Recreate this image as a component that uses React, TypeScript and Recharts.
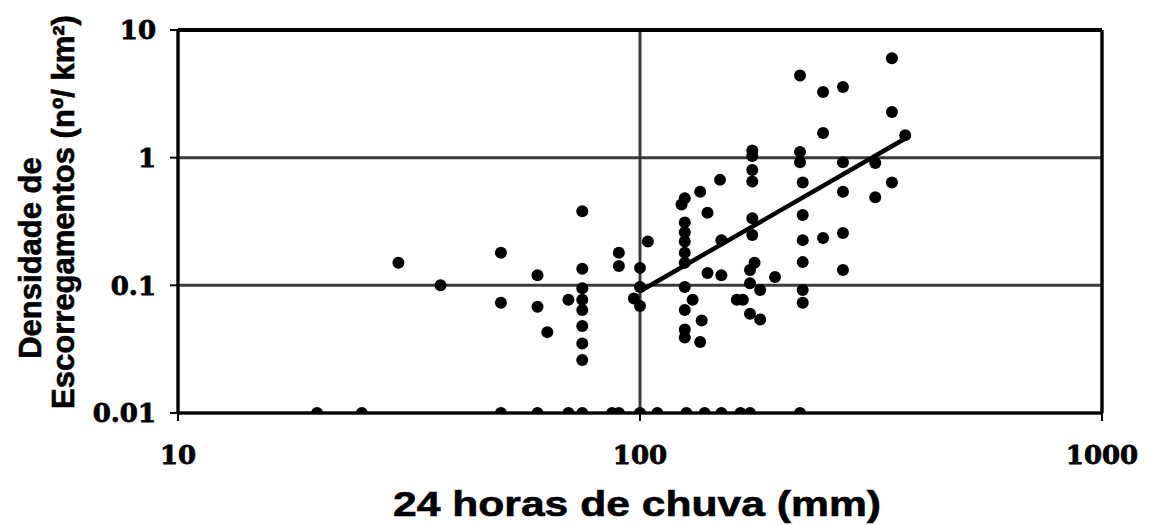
import React from 'react';
import { ScatterChart, Scatter, XAxis, YAxis, CartesianGrid, ReferenceLine, Label } from 'recharts';

// 24-hour rainfall (mm) and landslide density (nº/km²) for each event
const rainMm = [
  30, 37, 50, 50, 60, 60, 63, 70,
  75, 75, 75, 75, 75, 75, 75, 75,
  90, 90, 100, 100, 97, 100, 104,
  125, 123, 125, 125, 125, 125, 125, 125, 130, 125, 136, 125, 125, 135,
  135, 140, 149, 150, 140, 150, 162,
  175, 175, 175, 175, 175, 175, 177, 173, 173, 196, 182, 167, 173, 182,
  222, 222, 222, 225, 225, 225, 225, 225, 225,
  249, 249, 249,
  275, 275, 275, 275, 275,
  323, 323,
  351, 351, 351, 375,
];
const density = [
  0.15, 0.1, 0.18, 0.073, 0.12, 0.068, 0.043, 0.077,
  0.38, 0.135, 0.095, 0.077, 0.064, 0.048, 0.035, 0.026,
  0.18, 0.142, 0.137, 0.097, 0.079, 0.069, 0.22,
  0.48, 0.43, 0.31, 0.26, 0.22, 0.18, 0.15, 0.097, 0.077, 0.064, 0.053, 0.045, 0.039, 0.036,
  0.54, 0.37, 0.67, 0.226, 0.125, 0.12, 0.077,
  1.14, 1.03, 0.8, 0.65, 0.336, 0.248, 0.15, 0.132, 0.104, 0.116, 0.092, 0.077, 0.06, 0.054,
  4.4, 1.11, 0.92, 0.64, 0.355, 0.226, 0.152, 0.092, 0.073,
  3.27, 1.56, 0.235,
  3.57, 0.92, 0.54, 0.257, 0.132,
  0.91, 0.49,
  6.0, 2.28, 0.64, 1.5,
];

// events with no recorded landslides, plotted on the lower bound
const baselineRain = [20, 25, 50, 60, 70, 75, 87, 90, 100, 109, 126, 138, 150, 165, 173, 222];
const baselineDensity = 0.01;

// fitted trend line
const fitRain = [100, 380];
const fitDensity = [0.09, 1.45];

const xTicks = [10, 100, 1000];
const yTicks = [0.01, 0.1, 1, 10];

const events = rainMm.map((x, i) => ({ x, y: density[i] }));
const zeroEvents = baselineRain.map((x) => ({ x, y: baselineDensity }));
const fitLine = fitRain.map((x, i) => ({ x, y: fitDensity[i] }));

const Dot = (props: any) => <circle cx={props.cx} cy={props.cy} r={6} fill="#000" />;
const NoDot = () => <g />;

const tickFont = {
  fontFamily: 'DejaVu Serif',
  fontWeight: 'bold',
  fontSize: 26,
  fill: '#000',
  stroke: '#000',
  strokeWidth: 0.8,
};

const titleFont = {
  fontFamily: '"Liberation Sans", Arial, sans-serif',
  fontWeight: 'bold',
  fill: '#000',
  stroke: '#000',
  strokeWidth: 0.6,
};

export default function App() {
  return (
    <div style={{ position: 'absolute', left: 0, top: 0, background: '#fff' }}>
      <ScatterChart
        width={1155}
        height={525}
        margin={{ top: 30, right: 53, bottom: 0, left: 0 }}
      >
        <CartesianGrid stroke="#3a3a3a" strokeWidth={3} />
        <XAxis
          type="number"
          dataKey="x"
          scale="log"
          domain={[10, 1000]}
          ticks={xTicks}
          allowDataOverflow
          height={112}
          axisLine={false}
          tickSize={8}
          tickMargin={25}
          tickLine={{ stroke: '#000', strokeWidth: 2 }}
          tick={tickFont}
        >
          <Label
            content={() => (
              <text
                x={637}
                y={516}
                textAnchor="middle"
                fontSize={35}
                textLength={488}
                lengthAdjust="spacingAndGlyphs"
                style={titleFont}
              >
                24 horas de chuva (mm)
              </text>
            )}
          />
        </XAxis>
        <YAxis
          type="number"
          dataKey="y"
          scale="log"
          domain={[0.01, 10]}
          ticks={yTicks}
          allowDataOverflow
          width={178}
          axisLine={false}
          tickSize={8}
          tickMargin={14}
          tickLine={{ stroke: '#000', strokeWidth: 2 }}
          tick={tickFont}
          tickFormatter={(v: number) => String(v)}
        >
          <Label
            content={() => (
              <g style={titleFont}>
                <text transform="translate(41,258) rotate(-90)" textAnchor="middle" fontSize={31}>
                  Densidade de
                </text>
                <text transform="translate(74,212) rotate(-90)" textAnchor="middle" fontSize={31}>
                  Escorregamentos (nº/ km²)
                </text>
              </g>
            )}
          />
        </YAxis>
        <ReferenceLine x={10} stroke="#000" strokeWidth={3} />
        <ReferenceLine x={1000} stroke="#000" strokeWidth={3} />
        <ReferenceLine y={0.01} stroke="#000" strokeWidth={3} />
        <ReferenceLine y={10} stroke="#000" strokeWidth={4} />
        <Scatter data={zeroEvents} shape={Dot} isAnimationActive={false} />
        <Scatter data={events} shape={Dot} isAnimationActive={false} />
        <Scatter
          data={fitLine}
          shape={NoDot}
          line={{ stroke: '#000', strokeWidth: 4.5 }}
          isAnimationActive={false}
        />
      </ScatterChart>
    </div>
  );
}
